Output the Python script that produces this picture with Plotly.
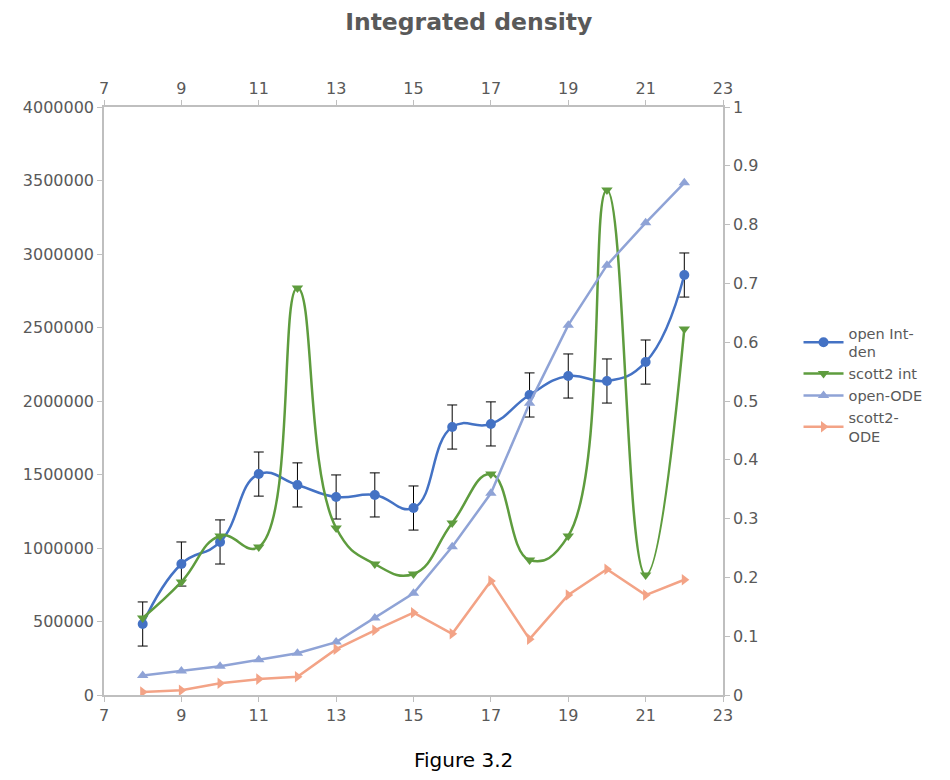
import plotly.graph_objects as go

x_vals = [8, 9, 10, 11, 12, 13, 14, 15, 16, 17, 18, 19, 20, 21, 22]

open_int_den = [483000, 891000, 1041000, 1503000, 1429000, 1347000, 1361000, 1272000,
                1823000, 1844000, 2041000, 2170000, 2136000, 2265000, 2857000]
open_int_den_err = [150000] * 15

scott2_int = [524000, 769000, 1082000, 1007000, 2769000, 1136000, 891000, 823000,
              1170000, 1503000, 918000, 1082000, 3435000, 816000, 2490000]

open_ode = [0.033, 0.041, 0.049, 0.060, 0.071, 0.090, 0.131, 0.173,
            0.252, 0.343, 0.496, 0.629, 0.731, 0.803, 0.871]

scott2_ode = [0.005, 0.008, 0.020, 0.027, 0.031, 0.078, 0.110, 0.140,
              0.104, 0.194, 0.095, 0.170, 0.214, 0.170, 0.196]

x_ticks = [7, 9, 11, 13, 15, 17, 19, 21, 23]
left_ticks = [0, 500000, 1000000, 1500000, 2000000, 2500000, 3000000, 3500000, 4000000]
right_ticks = [0, 0.1, 0.2, 0.3, 0.4, 0.5, 0.6, 0.7, 0.8, 0.9, 1]

FONT = "DejaVu Sans"
GRAY = "#595959"
AXIS = "#bfbfbf"

fig = go.Figure()

fig.add_trace(go.Scatter(
    x=x_vals, y=open_int_den, name="open Int-<br>den", mode="lines+markers",
    line=dict(color="#4472C4", width=2.5, shape="spline", smoothing=1.3),
    marker=dict(symbol="circle", size=10, color="#4472C4"),
    error_y=dict(type="data", array=open_int_den_err, visible=True,
                 color="#000000", thickness=1, width=5),
    xaxis="x", yaxis="y"))

fig.add_trace(go.Scatter(
    x=x_vals, y=scott2_int, name="scott2 int", mode="lines+markers",
    line=dict(color="#5E9C3E", width=2.5, shape="spline", smoothing=1.3),
    marker=dict(symbol="triangle-down", size=10, color="#5E9C3E"),
    xaxis="x", yaxis="y"))

fig.add_trace(go.Scatter(
    x=x_vals, y=open_ode, name="open-ODE", mode="lines+markers",
    line=dict(color="#8FA3D6", width=2.5),
    marker=dict(symbol="triangle-up", size=10, color="#8FA3D6"),
    xaxis="x2", yaxis="y2"))

fig.add_trace(go.Scatter(
    x=x_vals, y=scott2_ode, name="scott2-<br>ODE", mode="lines+markers",
    line=dict(color="#F3A386", width=2.5),
    marker=dict(symbol="triangle-right", size=10, color="#F3A386"),
    xaxis="x2", yaxis="y2"))

axis_common = dict(showgrid=False, zeroline=False, showline=True, linecolor=AXIS,
                   linewidth=1.5, ticks="outside", tickcolor=AXIS, ticklen=5,
                   tickfont=dict(family=FONT, size=16, color=GRAY))

fig.update_layout(
    width=950, height=780,
    paper_bgcolor="white", plot_bgcolor="white",
    margin=dict(l=96, r=235, t=99, b=93),
    font=dict(family=FONT, color=GRAY),
    title=dict(text="<b>Integrated density</b>", x=0.485, xanchor="center",
               y=0.982, yanchor="middle",
               font=dict(family=FONT, size=23.5, color=GRAY)),
    xaxis=dict(range=[7, 23], tickvals=x_ticks, ticktext=[str(v) for v in x_ticks],
               side="bottom", **axis_common),
    yaxis=dict(range=[0, 4000000], tickvals=left_ticks,
               ticktext=[str(v) for v in left_ticks], side="left", **axis_common),
    xaxis2=dict(range=[7, 23], tickvals=x_ticks, ticktext=[str(v) for v in x_ticks],
                side="top", overlaying="x", anchor="y2", **axis_common),
    yaxis2=dict(range=[0, 1], tickvals=right_ticks,
                ticktext=[("%g" % v) for v in right_ticks], side="right",
                overlaying="y", anchor="x2", **axis_common),
    legend=dict(x=1.122, y=0.643, xanchor="left", yanchor="top",
                font=dict(family=FONT, size=14.5, color=GRAY),
                bgcolor="rgba(0,0,0,0)", tracegroupgap=0, itemwidth=40),
    showlegend=True,
    annotations=[dict(text="Figure 3.2", xref="paper", yref="paper", x=0.58, y=-0.11,
                      xanchor="center", yanchor="middle", showarrow=False,
                      font=dict(family=FONT, size=20, color="#000000"))],
)

fig.write_html("out.html")
